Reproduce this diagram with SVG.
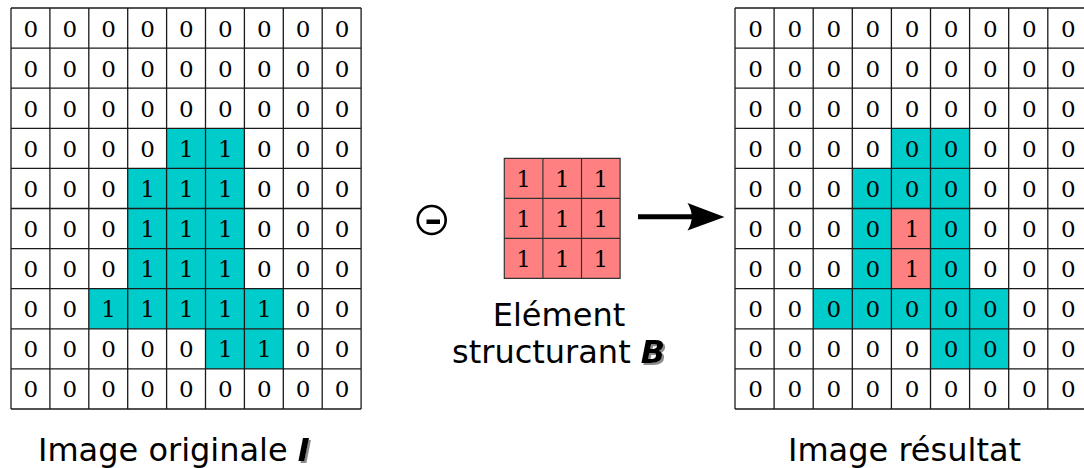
<svg xmlns="http://www.w3.org/2000/svg" width="1084" height="468" viewBox="0 0 1084 468">
<defs>
<filter id="ombre" x="-20%" y="-20%" width="160%" height="160%">
<feDropShadow dx="2" dy="2" stdDeviation="0.4" flood-color="#8c8c8c" flood-opacity="1"/>
</filter>
</defs>
<style>
.d{font-family:"DejaVu Serif","Liberation Serif",serif;font-size:23px;text-anchor:middle;fill:#000}
.lbl{font-family:"DejaVu Sans","Noto Sans",sans-serif;font-size:32px;fill:#000}
.bi{font-family:"DejaVu Sans","Noto Sans",sans-serif;font-size:32px;font-weight:bold;font-style:italic;fill:#000;filter:url(#ombre)}
.grid{fill:none;stroke:#1a1a1a;stroke-width:1.3}
.teal{fill:#00cccc}
.pink{fill:#ff8080}
</style>
<rect width="1084" height="468" fill="#fff"/>

<g id="image-originale">
<rect x="11" y="8" width="350.1" height="401" fill="#fff"/>
<rect class="teal" x="166.6" y="128.3" width="77.8" height="40.1"/>
<rect class="teal" x="127.7" y="168.4" width="116.7" height="120.3"/>
<rect class="teal" x="88.8" y="288.7" width="194.5" height="40.1"/>
<rect class="teal" x="205.5" y="328.8" width="77.8" height="40.1"/>
<path class="grid" d="M11 8V409M49.9 8V409M88.8 8V409M127.7 8V409M166.6 8V409M205.5 8V409M244.4 8V409M283.3 8V409M322.2 8V409M361.1 8V409M11 8H361.1M11 48.1H361.1M11 88.2H361.1M11 128.3H361.1M11 168.4H361.1M11 208.5H361.1M11 248.6H361.1M11 288.7H361.1M11 328.8H361.1M11 368.9H361.1M11 409H361.1"/>
<g transform="translate(0,36.5)"><text class="d" x="30.8">0</text><text class="d" x="69.7">0</text><text class="d" x="108.6">0</text><text class="d" x="147.5">0</text><text class="d" x="186.4">0</text><text class="d" x="225.3">0</text><text class="d" x="264.2">0</text><text class="d" x="303.1">0</text><text class="d" x="342">0</text></g>
<g transform="translate(0,76.6)"><text class="d" x="30.8">0</text><text class="d" x="69.7">0</text><text class="d" x="108.6">0</text><text class="d" x="147.5">0</text><text class="d" x="186.4">0</text><text class="d" x="225.3">0</text><text class="d" x="264.2">0</text><text class="d" x="303.1">0</text><text class="d" x="342">0</text></g>
<g transform="translate(0,116.7)"><text class="d" x="30.8">0</text><text class="d" x="69.7">0</text><text class="d" x="108.6">0</text><text class="d" x="147.5">0</text><text class="d" x="186.4">0</text><text class="d" x="225.3">0</text><text class="d" x="264.2">0</text><text class="d" x="303.1">0</text><text class="d" x="342">0</text></g>
<g transform="translate(0,156.8)"><text class="d" x="30.8">0</text><text class="d" x="69.7">0</text><text class="d" x="108.6">0</text><text class="d" x="147.5">0</text><text class="d" x="186.4">1</text><text class="d" x="225.3">1</text><text class="d" x="264.2">0</text><text class="d" x="303.1">0</text><text class="d" x="342">0</text></g>
<g transform="translate(0,196.9)"><text class="d" x="30.8">0</text><text class="d" x="69.7">0</text><text class="d" x="108.6">0</text><text class="d" x="147.5">1</text><text class="d" x="186.4">1</text><text class="d" x="225.3">1</text><text class="d" x="264.2">0</text><text class="d" x="303.1">0</text><text class="d" x="342">0</text></g>
<g transform="translate(0,237)"><text class="d" x="30.8">0</text><text class="d" x="69.7">0</text><text class="d" x="108.6">0</text><text class="d" x="147.5">1</text><text class="d" x="186.4">1</text><text class="d" x="225.3">1</text><text class="d" x="264.2">0</text><text class="d" x="303.1">0</text><text class="d" x="342">0</text></g>
<g transform="translate(0,277.1)"><text class="d" x="30.8">0</text><text class="d" x="69.7">0</text><text class="d" x="108.6">0</text><text class="d" x="147.5">1</text><text class="d" x="186.4">1</text><text class="d" x="225.3">1</text><text class="d" x="264.2">0</text><text class="d" x="303.1">0</text><text class="d" x="342">0</text></g>
<g transform="translate(0,317.2)"><text class="d" x="30.8">0</text><text class="d" x="69.7">0</text><text class="d" x="108.6">1</text><text class="d" x="147.5">1</text><text class="d" x="186.4">1</text><text class="d" x="225.3">1</text><text class="d" x="264.2">1</text><text class="d" x="303.1">0</text><text class="d" x="342">0</text></g>
<g transform="translate(0,357.3)"><text class="d" x="30.8">0</text><text class="d" x="69.7">0</text><text class="d" x="108.6">0</text><text class="d" x="147.5">0</text><text class="d" x="186.4">0</text><text class="d" x="225.3">1</text><text class="d" x="264.2">1</text><text class="d" x="303.1">0</text><text class="d" x="342">0</text></g>
<g transform="translate(0,397.4)"><text class="d" x="30.8">0</text><text class="d" x="69.7">0</text><text class="d" x="108.6">0</text><text class="d" x="147.5">0</text><text class="d" x="186.4">0</text><text class="d" x="225.3">0</text><text class="d" x="264.2">0</text><text class="d" x="303.1">0</text><text class="d" x="342">0</text></g>
<text class="lbl" x="38" y="461">Image originale <tspan class="bi">I</tspan></text>
</g>

<g id="operateur-erosion">
<circle cx="431.7" cy="220" r="14" fill="none" stroke="#000" stroke-width="2.6"/>
<rect x="426.5" y="219.5" width="13.5" height="4.5" fill="#000"/>
</g>

<g id="element-structurant">
<rect class="pink" x="504.3" y="158.3" width="115.8" height="120"/>
<path d="M504.3 158.3H620.1V278.3H504.3ZM542.9 158.3V278.3M581.5 158.3V278.3M504.3 198.3H620.1M504.3 238.3H620.1" fill="none" stroke="#333" stroke-width="1.2"/>
<g transform="translate(0,186.8)"><text class="d" x="523.6">1</text><text class="d" x="562.2">1</text><text class="d" x="600.8">1</text></g>
<g transform="translate(0,226.8)"><text class="d" x="523.6">1</text><text class="d" x="562.2">1</text><text class="d" x="600.8">1</text></g>
<g transform="translate(0,266.8)"><text class="d" x="523.6">1</text><text class="d" x="562.2">1</text><text class="d" x="600.8">1</text></g>
<text class="lbl" x="559" y="326" text-anchor="middle">Elément</text>
<text class="lbl" x="452" y="362.7">structurant <tspan class="bi">B</tspan></text>
</g>

<g id="connecteurs">
<line x1="638" y1="216.8" x2="695" y2="216.8" stroke="#000" stroke-width="5"/>
<path d="M724.5 217L687.5 203Q696 217 687.5 230.5Z" fill="#000"/>
</g>

<g id="image-resultat">
<rect x="735" y="8" width="352" height="401" fill="#fff"/>
<rect class="teal" x="891.4" y="128.3" width="78.2" height="40.1"/>
<rect class="teal" x="852.3" y="168.4" width="117.3" height="120.3"/>
<rect class="teal" x="813.2" y="288.7" width="195.5" height="40.1"/>
<rect class="teal" x="930.5" y="328.8" width="78.2" height="40.1"/>
<rect class="pink" x="891.4" y="208.5" width="39.1" height="80.2"/>
<path class="grid" d="M735 8V409M774.1 8V409M813.2 8V409M852.3 8V409M891.4 8V409M930.5 8V409M969.6 8V409M1008.7 8V409M1047.8 8V409M1086.9 8V409M735 8H1087M735 48.1H1087M735 88.2H1087M735 128.3H1087M735 168.4H1087M735 208.5H1087M735 248.6H1087M735 288.7H1087M735 328.8H1087M735 368.9H1087M735 409H1087"/>
<g transform="translate(0,36.5)"><text class="d" x="755.6">0</text><text class="d" x="794.7">0</text><text class="d" x="833.8">0</text><text class="d" x="872.9">0</text><text class="d" x="912">0</text><text class="d" x="951.1">0</text><text class="d" x="990.2">0</text><text class="d" x="1029.3">0</text><text class="d" x="1068.4">0</text></g>
<g transform="translate(0,76.6)"><text class="d" x="755.6">0</text><text class="d" x="794.7">0</text><text class="d" x="833.8">0</text><text class="d" x="872.9">0</text><text class="d" x="912">0</text><text class="d" x="951.1">0</text><text class="d" x="990.2">0</text><text class="d" x="1029.3">0</text><text class="d" x="1068.4">0</text></g>
<g transform="translate(0,116.7)"><text class="d" x="755.6">0</text><text class="d" x="794.7">0</text><text class="d" x="833.8">0</text><text class="d" x="872.9">0</text><text class="d" x="912">0</text><text class="d" x="951.1">0</text><text class="d" x="990.2">0</text><text class="d" x="1029.3">0</text><text class="d" x="1068.4">0</text></g>
<g transform="translate(0,156.8)"><text class="d" x="755.6">0</text><text class="d" x="794.7">0</text><text class="d" x="833.8">0</text><text class="d" x="872.9">0</text><text class="d" x="912">0</text><text class="d" x="951.1">0</text><text class="d" x="990.2">0</text><text class="d" x="1029.3">0</text><text class="d" x="1068.4">0</text></g>
<g transform="translate(0,196.9)"><text class="d" x="755.6">0</text><text class="d" x="794.7">0</text><text class="d" x="833.8">0</text><text class="d" x="872.9">0</text><text class="d" x="912">0</text><text class="d" x="951.1">0</text><text class="d" x="990.2">0</text><text class="d" x="1029.3">0</text><text class="d" x="1068.4">0</text></g>
<g transform="translate(0,237)"><text class="d" x="755.6">0</text><text class="d" x="794.7">0</text><text class="d" x="833.8">0</text><text class="d" x="872.9">0</text><text class="d" x="912">1</text><text class="d" x="951.1">0</text><text class="d" x="990.2">0</text><text class="d" x="1029.3">0</text><text class="d" x="1068.4">0</text></g>
<g transform="translate(0,277.1)"><text class="d" x="755.6">0</text><text class="d" x="794.7">0</text><text class="d" x="833.8">0</text><text class="d" x="872.9">0</text><text class="d" x="912">1</text><text class="d" x="951.1">0</text><text class="d" x="990.2">0</text><text class="d" x="1029.3">0</text><text class="d" x="1068.4">0</text></g>
<g transform="translate(0,317.2)"><text class="d" x="755.6">0</text><text class="d" x="794.7">0</text><text class="d" x="833.8">0</text><text class="d" x="872.9">0</text><text class="d" x="912">0</text><text class="d" x="951.1">0</text><text class="d" x="990.2">0</text><text class="d" x="1029.3">0</text><text class="d" x="1068.4">0</text></g>
<g transform="translate(0,357.3)"><text class="d" x="755.6">0</text><text class="d" x="794.7">0</text><text class="d" x="833.8">0</text><text class="d" x="872.9">0</text><text class="d" x="912">0</text><text class="d" x="951.1">0</text><text class="d" x="990.2">0</text><text class="d" x="1029.3">0</text><text class="d" x="1068.4">0</text></g>
<g transform="translate(0,397.4)"><text class="d" x="755.6">0</text><text class="d" x="794.7">0</text><text class="d" x="833.8">0</text><text class="d" x="872.9">0</text><text class="d" x="912">0</text><text class="d" x="951.1">0</text><text class="d" x="990.2">0</text><text class="d" x="1029.3">0</text><text class="d" x="1068.4">0</text></g>
<text class="lbl" x="788" y="461">Image résultat</text>
</g>
</svg>
